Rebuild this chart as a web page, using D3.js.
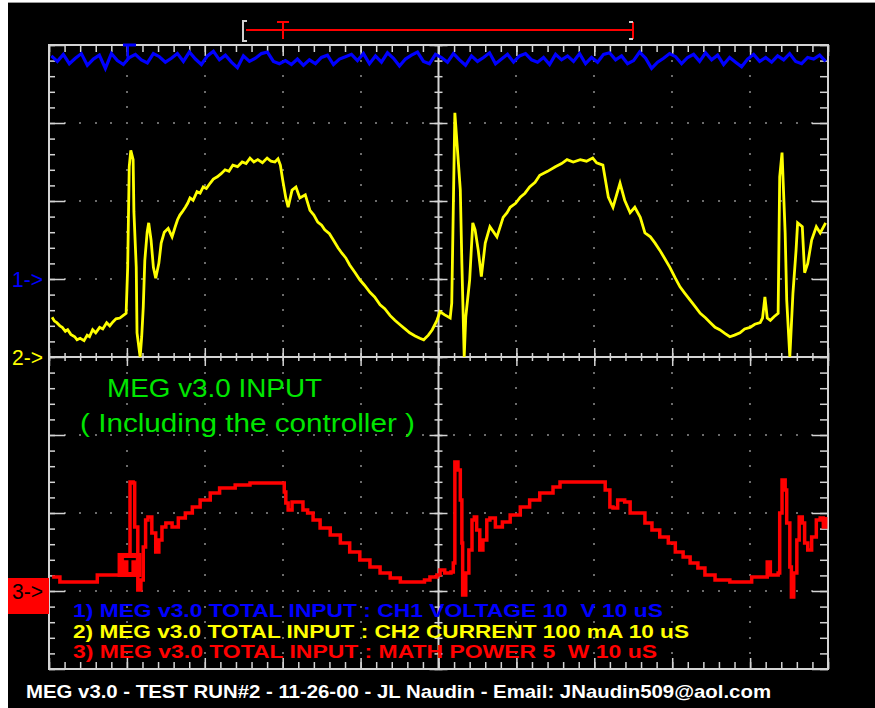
<!DOCTYPE html>
<html>
<head>
<meta charset="utf-8">
<script src="https://cdn.jsdelivr.net/npm/d3@7/dist/d3.min.js"></script>
<style>
body{margin:0;background:#fff;}
svg{display:block;}
</style>
</head>
<body>
<div id="scope"></div>
<script>
var W=875,H=708;
var left=49,right=828,top_=45,bottom=669;

// CH1 voltage (V), sampled evenly across the 100 us screen
var ch1_volts=[
28.6,27.9,28.8,27.6,28.3,28.9,27.4,28.2,28.7,27.0,
28.9,28.0,27.5,28.4,28.8,28.1,27.7,28.9,28.5,27.8,
28.3,28.9,27.9,29.1,28.2,27.5,28.6,29.2,28.1,28.7,
27.8,27.1,28.6,27.9,28.3,28.9,29.1,27.9,27.6,28.0,
27.5,28.2,27.4,28.1,27.6,28.4,28.7,27.5,28.2,28.5,
28.8,28.0,28.9,27.6,28.6,27.8,29.0,28.3,27.3,28.2,
28.7,29.1,27.9,27.6,28.8,28.4,27.8,28.9,28.1,27.4,
28.6,27.9,28.4,29.0,27.6,28.2,28.8,27.8,28.6,28.9,
28.1,27.8,28.4,27.5,28.8,28.1,28.6,27.9,28.9,27.6,
28.4,27.8,28.8,29.0,28.1,28.6,27.6,28.0,29.1,28.3,
27.0,27.8,28.3,28.9,28.5,27.6,28.4,28.8,27.9,29.0,
28.1,28.7,27.5,28.4,27.8,27.2,28.2,28.8,27.9,28.4,
27.8,28.6,28.1,28.9,27.9,27.6,28.4,28.2,28.7,27.9
];
var ch1_span=100; // us across the samples

// CH2 current [time us, mA]
var ch2_pts=[[0.4,51],[0.7,46],[1.0,44],[1.4,40],[1.7,38],[2.1,33],[2.4,35],[2.8,29],[3.3,26],[3.6,22],[4.0,24],[4.5,21],[4.9,28],[5.2,26],[5.6,35],[6.0,31],[6.5,38],[6.9,36],[7.4,44],[7.8,40],[8.2,45],[8.6,49],[9.1,50],[9.5,53],[9.9,56],[10.1,115],[10.3,244],[10.5,265],[10.8,253],[10.9,186],[11.2,115],[11.3,31],[11.7,0],[11.9,26],[12.1,64],[12.3,124],[12.6,160],[12.8,172],[13.1,150],[13.4,115],[13.7,101],[14.1,120],[14.4,146],[14.8,160],[15.3,165],[15.8,154],[16.2,167],[16.5,176],[16.8,182],[17.1,186],[17.5,192],[17.8,197],[18.1,204],[18.5,201],[19.0,212],[19.4,210],[19.8,218],[20.2,216],[20.7,223],[21.1,228],[21.6,231],[22.1,235],[22.6,240],[23.1,238],[23.6,246],[24.2,244],[24.8,250],[25.3,248],[25.8,255],[26.3,250],[26.8,253],[27.4,249],[28.0,255],[28.5,251],[29.0,250],[29.4,254],[29.7,246],[30.0,227],[30.4,204],[30.7,192],[31.2,214],[31.7,218],[32.2,204],[32.9,208],[33.5,188],[34.0,182],[34.5,173],[35.0,169],[35.4,163],[36.0,158],[36.5,150],[37.1,140],[37.6,133],[38.1,127],[38.6,118],[39.3,108],[39.9,99],[40.5,92],[41.2,83],[41.8,77],[42.5,67],[43.1,62],[43.8,53],[44.4,47],[45.1,41],[45.7,36],[46.3,31],[47.0,27],[47.6,24],[48.1,22],[48.7,28],[49.2,35],[49.8,47],[50.2,58],[50.8,54],[51.5,50],[51.7,69],[52.1,313],[52.8,214],[53.0,120],[53.3,0],[53.5,51],[54.0,99],[54.4,172],[54.7,163],[55.1,137],[55.5,103],[56.0,146],[56.6,167],[57.5,154],[58.3,179],[58.8,185],[59.2,192],[59.9,197],[60.5,205],[61.1,210],[61.7,218],[62.4,224],[63.0,233],[64.0,238],[65.0,244],[65.8,248],[66.5,253],[67.3,250],[68.2,253],[69.0,251],[69.8,255],[70.3,249],[71.1,246],[71.8,205],[72.4,192],[73.3,223],[73.9,201],[74.6,185],[75.2,192],[75.9,179],[76.5,159],[77.2,154],[77.8,146],[78.4,137],[79.0,127],[79.7,115],[80.4,101],[81.0,90],[81.6,82],[82.3,73],[83.0,64],[83.6,56],[84.3,50],[84.9,44],[85.5,38],[86.1,35],[86.8,30],[87.4,26],[88.0,28],[88.7,31],[89.3,36],[90.0,38],[90.6,42],[91.3,44],[91.6,50],[91.9,77],[92.2,50],[92.6,47],[93.1,52],[93.6,56],[93.8,231],[94.1,262],[94.5,159],[94.7,73],[95.1,0],[95.5,82],[95.9,137],[96.1,172],[96.7,167],[97.0,108],[97.4,120],[97.9,150],[98.5,167],[99.0,159],[99.7,172]];

// CH3 math power [time us, W]
var ch3_pts=[[0.4,0.9],[1.4,0.58],[3.3,0.58],[5.9,0.58],[6.2,1.03],[7.8,1.03],[9.9,1.03],[10.4,6.99],[10.8,6.92],[11.0,4.10],[11.4,0.06],[11.8,0.71],[12.1,2.82],[12.4,4.55],[12.7,4.74],[13.2,3.72],[13.7,2.50],[14.1,3.27],[14.5,4.10],[15.0,4.36],[15.8,4.10],[16.6,4.68],[17.5,5.0],[18.4,5.38],[19.4,5.83],[20.7,6.28],[21.9,6.60],[23.9,6.79],[25.8,6.92],[27.7,6.92],[29.7,6.92],[30.2,6.35],[30.4,5.64],[30.7,5.19],[31.2,5.70],[31.8,5.70],[32.6,5.19],[33.2,5.0],[33.9,4.55],[34.8,4.04],[36.1,3.59],[37.4,3.08],[38.6,2.50],[39.9,1.99],[41.2,1.54],[42.5,1.15],[43.8,0.83],[45.1,0.58],[46.9,0.58],[48.2,0.71],[48.9,0.9],[49.8,1.03],[50.2,1.35],[50.8,1.15],[51.6,1.22],[51.9,1.79],[52.1,8.27],[52.5,7.76],[52.8,5.83],[53.0,3.08],[53.1,-0.26],[53.5,1.15],[53.9,2.63],[54.3,4.55],[54.6,4.74],[54.9,3.91],[55.3,2.63],[55.7,3.27],[56.2,4.55],[56.6,4.68],[57.3,4.10],[58.2,4.42],[59.2,4.87],[60.5,5.38],[61.7,5.83],[63.0,6.28],[64.7,6.67],[65.6,6.99],[67.5,6.99],[69.4,6.99],[70.9,6.99],[71.4,6.47],[72.0,5.38],[72.4,5.32],[73.0,5.83],[73.9,5.70],[74.6,5.0],[75.9,5.0],[76.5,4.36],[77.4,3.91],[78.4,3.46],[79.5,3.08],[80.4,2.50],[81.4,2.18],[82.3,1.79],[83.3,1.47],[84.2,1.03],[85.5,0.71],[87.4,0.58],[89.3,0.58],[90.2,0.90],[91.9,0.90],[92.2,1.86],[92.6,1.03],[93.6,1.15],[93.8,5.0],[94.1,7.12],[94.5,6.47],[94.7,4.36],[95.1,1.54],[95.3,-0.38],[95.6,1.15],[96.0,3.27],[96.3,4.74],[96.7,4.36],[97.0,3.08],[97.4,2.63],[97.9,3.46],[98.5,4.55],[99.0,4.68],[99.4,4.10],[99.7,4.74]];

var legend_lines=[
	"1) MEG v3.0 TOTAL INPUT : CH1 VOLTAGE 10  V 10 uS",
	"2) MEG v3.0 TOTAL INPUT : CH2 CURRENT 100 mA 10 uS",
	"3) MEG v3.0 TOTAL INPUT : MATH POWER 5  W 10 uS"];
var legend_colors=["#0000ff","#ffff00","#ff0000"];
var legend_widths=[590,616,584];
var title_lines=["MEG v3.0 INPUT","( Including the controller )"];
var footer="MEG v3.0 - TEST RUN#2 - 11-26-00 - JL Naudin - Email: JNaudin509@aol.com";

var svg=d3.select("#scope").append("svg").attr("width",W).attr("height",H);
svg.append("rect").attr("width",W).attr("height",H).attr("fill","#fff");
svg.append("rect").attr("x",8).attr("y",3).attr("width",W-8).attr("height",H-3).attr("fill","#000");
svg.append("line").attr("x1",8).attr("x2",W).attr("y1",2.5).attr("y2",2.5).attr("stroke","#9a9a9a");

//***************************
//SCALES
//***************************
var tScale=d3.scaleLinear().domain([0,100]).range([left,right]);
var divScale=d3.scaleLinear().domain([-4,4]).range([bottom,top_]);
var y1Scale=d3.scaleLinear().domain([-50,30]).range([bottom,top_]);   // 10 V/div, ground at +1 div
var y2Scale=d3.scaleLinear().domain([-400,400]).range([bottom,top_]); // 100 mA/div, ground at 0
var y3Scale=d3.scaleLinear().domain([-5,35]).range([bottom,top_]);    // 5 W/div, ground at -3 div

var GRID="#d4d4d4";

//***************************
//GRID DOTS
//***************************
var g_grid=svg.append("g");
var dots=[];
[-3,-2,-1,1,2,3].forEach(function(d){
	d3.range(2,99,2).forEach(function(t){ dots.push([tScale(t),divScale(d)]); });
});
[10,20,30,40,60,70,80,90].forEach(function(t){
	d3.range(-19,20,1).forEach(function(k){ if(k%5!=0) dots.push([tScale(t),divScale(k/5)]); });
});
g_grid.selectAll("rect").data(dots).enter().append("rect")
	.attr("x",function(d){return Math.round(d[0])-0.75;})
	.attr("y",function(d){return Math.round(d[1])-0.75;})
	.attr("width",1.5).attr("height",1.5).attr("fill","#bdbdbd");

//***************************
//BORDER AND CENTER AXES
//***************************
function noDomain(g){ g.select(".domain").remove(); g.selectAll("line").attr("stroke-width",1.5); }
var minorT=d3.range(0,100.01,2), majorT=d3.range(0,100.01,10);
var minorV=d3.range(-20,20.01,1).map(function(k){return k/5;}), majorV=d3.range(-4,4.01,1);

svg.append("g").attr("color",GRID).attr("transform","translate(0,"+top_+")")
	.call(d3.axisBottom(tScale).tickValues(minorT).tickSize(7).tickFormat("")).call(noDomain);
svg.append("g").attr("color",GRID).attr("transform","translate(0,"+top_+")")
	.call(d3.axisBottom(tScale).tickValues(majorT).tickSize(11).tickFormat("")).call(noDomain);
svg.append("g").attr("color",GRID).attr("transform","translate(0,"+bottom+")")
	.call(d3.axisTop(tScale).tickValues(minorT).tickSize(7).tickFormat("")).call(noDomain);
svg.append("g").attr("color",GRID).attr("transform","translate(0,"+bottom+")")
	.call(d3.axisTop(tScale).tickValues(majorT).tickSize(11).tickFormat("")).call(noDomain);
svg.append("g").attr("color",GRID).attr("transform","translate("+left+",0)")
	.call(d3.axisRight(divScale).tickValues(minorV).tickSize(6).tickFormat("")).call(noDomain);
svg.append("g").attr("color",GRID).attr("transform","translate("+left+",0)")
	.call(d3.axisRight(divScale).tickValues(majorV).tickSize(16).tickFormat("")).call(noDomain);
svg.append("g").attr("color",GRID).attr("transform","translate("+right+",0)")
	.call(d3.axisLeft(divScale).tickValues(minorV).tickSize(8).tickFormat("")).call(noDomain);
svg.append("g").attr("color",GRID).attr("transform","translate("+right+",0)")
	.call(d3.axisLeft(divScale).tickValues(majorV).tickSize(16).tickFormat("")).call(noDomain);

// center cross with ticks on both sides
var cy=divScale(0), cx=tScale(50);
[d3.axisTop,d3.axisBottom].forEach(function(ax){
	svg.append("g").attr("color",GRID).attr("transform","translate(0,"+cy+")")
		.call(ax(tScale).tickValues(minorT).tickSize(4).tickFormat("")).call(noDomain);
	svg.append("g").attr("color",GRID).attr("transform","translate(0,"+cy+")")
		.call(ax(tScale).tickValues(majorT).tickSize(9).tickFormat("")).call(noDomain);
});
[d3.axisLeft,d3.axisRight].forEach(function(ax){
	svg.append("g").attr("color",GRID).attr("transform","translate("+cx+",0)")
		.call(ax(divScale).tickValues(minorV).tickSize(4).tickFormat("")).call(noDomain);
	svg.append("g").attr("color",GRID).attr("transform","translate("+cx+",0)")
		.call(ax(divScale).tickValues(majorV).tickSize(9).tickFormat("")).call(noDomain);
});
svg.append("line").attr("x1",left).attr("x2",right).attr("y1",cy).attr("y2",cy).attr("stroke",GRID).attr("stroke-width",2);
svg.append("line").attr("x1",cx).attr("x2",cx).attr("y1",top_).attr("y2",bottom).attr("stroke",GRID).attr("stroke-width",2);
svg.append("rect").attr("x",left).attr("y",top_).attr("width",right-left).attr("height",bottom-top_)
	.attr("fill","none").attr("stroke",GRID).attr("stroke-width",2);

//***************************
//TRACES
//***************************
var ch1_line=d3.line()
	.x(function(d,i){return tScale(0.3+i*(ch1_span-0.6)/(ch1_volts.length-1));})
	.y(function(d){return y1Scale(d);});
svg.append("path").attr("d",ch1_line(ch1_volts)).attr("fill","none")
	.attr("stroke","#0000ff").attr("stroke-width",3.2).attr("stroke-linejoin","miter");

var ch2_line=d3.line()
	.x(function(d){return tScale(d[0]);})
	.y(function(d){return y2Scale(d[1]);});
svg.append("path").attr("d",ch2_line(ch2_pts)).attr("fill","none")
	.attr("stroke","#ffff00").attr("stroke-width",2.8).attr("stroke-linejoin","miter");

var ch3_line=d3.line()
	.curve(d3.curveStepAfter)
	.x(function(d){return tScale(d[0]);})
	.y(function(d){return y3Scale(d[1]);});
svg.append("path").attr("d",ch3_line(ch3_pts)).attr("fill","none")
	.attr("stroke","#ff0000").attr("stroke-width",3.5);

//***************************
//MARKERS
//***************************
var FONT="'Liberation Sans', Arial, sans-serif";
// trigger box on ch3
svg.append("rect").attr("x",tScale(8.8)).attr("y",y3Scale(0.9)-24).attr("width",24).attr("height",24).attr("fill","#ff0000");
svg.append("text").attr("x",tScale(8.8)+12).attr("y",y3Scale(0.9)-5).attr("text-anchor","middle")
	.attr("font-family",FONT).attr("font-weight","bold").attr("font-size",20).attr("fill","#000").text("T");

// ch1 position marker at top
svg.append("rect").attr("x",123).attr("y",top_-1.5).attr("width",13).attr("height",3).attr("fill","#0000ff");
svg.append("rect").attr("x",126.5).attr("y",top_).attr("width",2.5).attr("height",14).attr("fill","#0000ff");

// ground arrows
svg.append("rect").attr("x",8).attr("y",y3Scale(0)-13).attr("width",41).attr("height",36).attr("fill","#ff0000");
var arrows=[["1->",y1Scale(0),"#0000ff"],["2->",y2Scale(0),"#ffff00"],["3->",y3Scale(0),"#000"]];
svg.selectAll(".arrow").data(arrows).enter().append("text")
	.attr("class","arrow").attr("x",12).attr("y",function(d){return d[1]+8;})
	.attr("font-family",FONT).attr("font-size",22).attr("fill",function(d){return d[2];})
	.attr("textLength",31).attr("lengthAdjust","spacingAndGlyphs")
	.text(function(d){return d[0];});

// horizontal trigger/window marker at top
var g_top=svg.append("g");
g_top.append("line").attr("x1",246).attr("x2",633).attr("y1",30).attr("y2",30).attr("stroke","#ff0000").attr("stroke-width",2);
g_top.append("path").attr("d","M247,21H243V41H247").attr("fill","none").attr("stroke","#d0d0d0").attr("stroke-width",2);
g_top.append("path").attr("d","M277,22H289M283,22V39").attr("fill","none").attr("stroke","#ff0000").attr("stroke-width",2);
g_top.append("line").attr("x1",633).attr("x2",633).attr("y1",22).attr("y2",39).attr("stroke","#ff0000").attr("stroke-width",2);
g_top.append("path").attr("d","M629,22H633M629,39H633").attr("fill","none").attr("stroke","#d0d0d0").attr("stroke-width",2);

//***************************
//TEXTS
//***************************
svg.selectAll(".title").data(title_lines).enter().append("text")
	.attr("class","title")
	.attr("x",function(d,i){return i==0?107:80;})
	.attr("y",function(d,i){return i==0?397:432;})
	.attr("font-family",FONT).attr("font-size",26).attr("fill","#00e600")
	.attr("textLength",function(d,i){return i==0?215:335;}).attr("lengthAdjust","spacingAndGlyphs")
	.text(function(d){return d;});

svg.selectAll(".legend").data(legend_lines).enter().append("text")
	.attr("class","legend")
	.attr("x",73).attr("y",function(d,i){return 617+i*20.5;})
	.attr("font-family",FONT).attr("font-weight","bold").attr("font-size",18)
	.attr("fill",function(d,i){return legend_colors[i];})
	.attr("textLength",function(d,i){return legend_widths[i];}).attr("lengthAdjust","spacingAndGlyphs")
	.attr("xml:space","preserve")
	.text(function(d){return d;});

svg.append("text").attr("x",26).attr("y",698)
	.attr("font-family",FONT).attr("font-weight","bold").attr("font-size",19).attr("fill","#fff")
	.attr("textLength",745).attr("lengthAdjust","spacingAndGlyphs")
	.text(footer);
</script>
</body>
</html>
